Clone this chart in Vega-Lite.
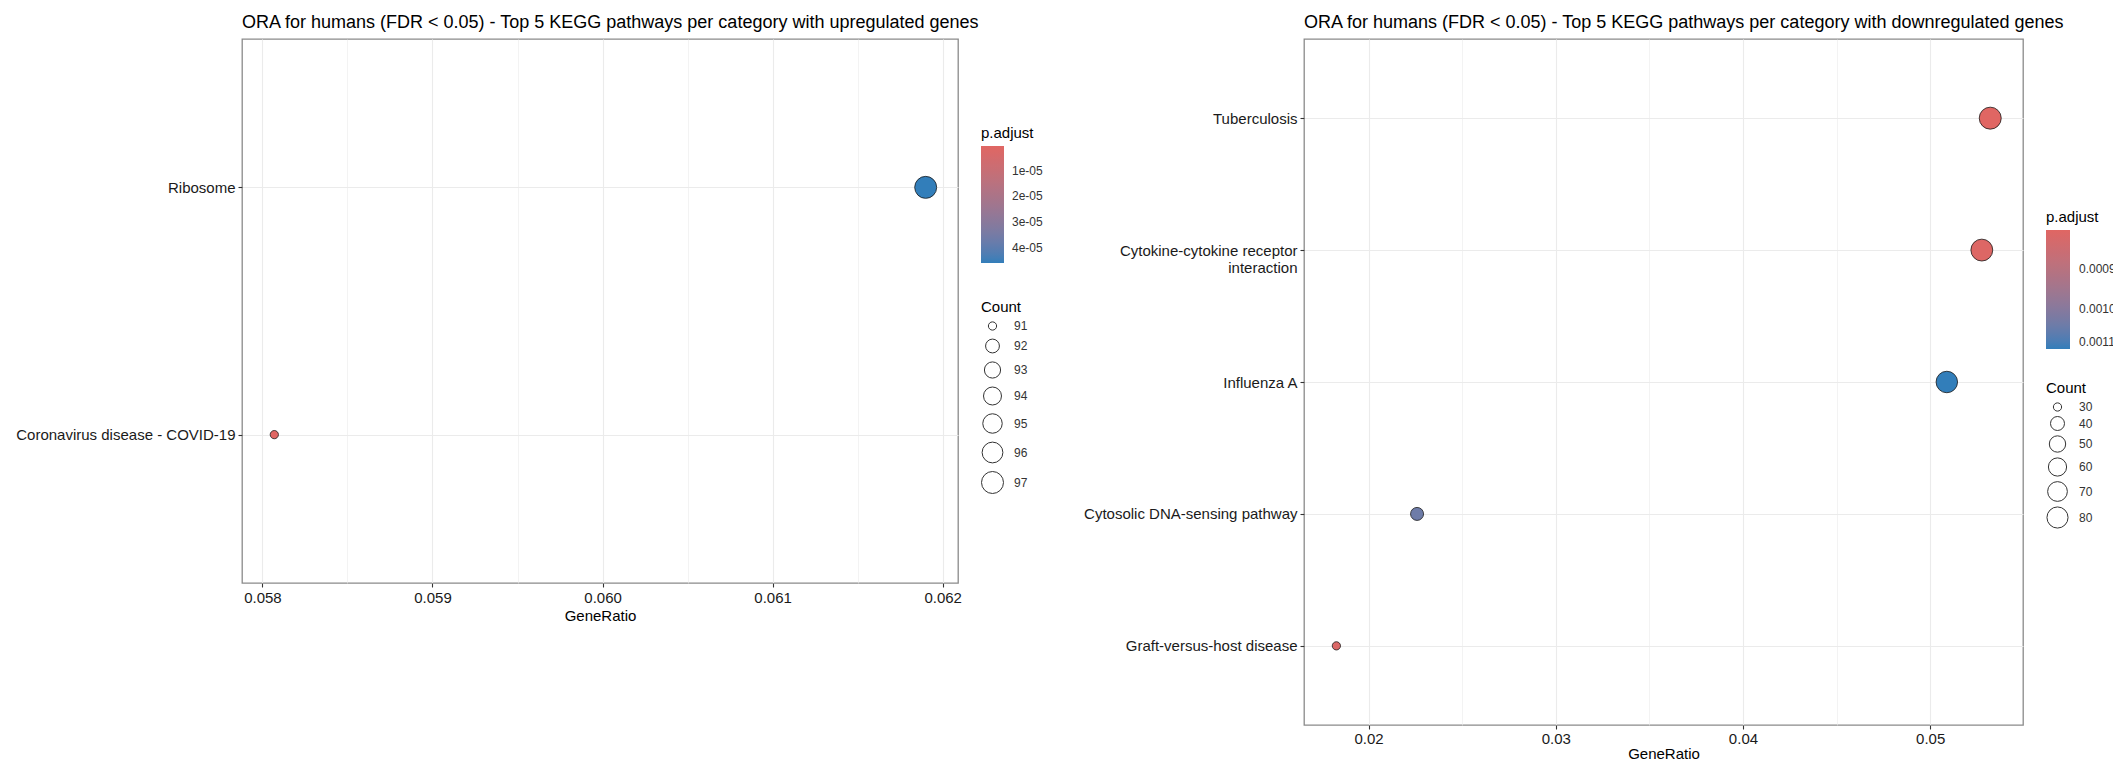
{
  "$schema": "https://vega.github.io/schema/vega-lite/v6.json",
  "background": "white",
  "padding": {"left": 15, "top": 13, "right": 0, "bottom": 0},
  "autosize": {"type": "pad"},
  "config": {
    "font": "Liberation Sans",
    "view": {"stroke": "#8a8a8a", "strokeWidth": 1.3},
    "axis": {
      "labelFont": "Liberation Sans",
      "labelFontSize": 15,
      "labelColor": "#1a1a1a",
      "labelPadding": 3,
      "labelOverlap": false,
      "labelFlush": false,
      "tickSize": 4,
      "tickColor": "#333333",
      "tickWidth": 1.1,
      "domain": false,
      "gridColor": "#ebebeb",
      "gridWidth": 1.1,
      "titleFont": "Liberation Sans",
      "titleFontSize": 15,
      "titleFontWeight": "normal",
      "titleColor": "#000000",
      "titlePadding": 3
    },
    "legend": {
      "titleFont": "Liberation Sans",
      "titleFontSize": 15,
      "titleFontWeight": "normal",
      "titleColor": "#000000",
      "titlePadding": 5,
      "labelFont": "Liberation Sans",
      "labelFontSize": 12,
      "labelColor": "#333333",
      "gradientStrokeWidth": 0,
      "padding": 0,
      "symbolFillColor": "transparent",
      "symbolStrokeColor": "#333333",
      "symbolStrokeWidth": 1
    },
    "title": {
      "font": "Liberation Sans",
      "fontSize": 18,
      "fontWeight": "normal",
      "color": "#000000",
      "anchor": "start",
      "frame": "group",
      "offset": 7
    }
  },
  "bounds": "flush",
  "spacing": 346,
  "resolve": {
    "scale": {"color": "independent", "size": "independent", "x": "independent", "y": "independent"},
    "legend": {"color": "independent", "size": "independent"}
  },
  "hconcat": [
    {
      "title": "ORA for humans (FDR < 0.05) - Top 5 KEGG pathways per category with upregulated genes",
      "width": 716,
      "height": 544,
      "data": {
        "values": [
          {"Description": "Ribosome", "GeneRatio": 0.0619, "Count": 97, "p_adjust": 0.000046},
          {"Description": "Coronavirus disease - COVID-19", "GeneRatio": 0.05807, "Count": 91, "p_adjust": 0.0000003}
        ]
      },
      "mark": {"type": "circle", "opacity": 1, "stroke": "#1a1a1a", "strokeWidth": 0.8},
      "encoding": {
        "x": {
          "field": "GeneRatio",
          "type": "quantitative",
          "scale": {"domain": [0.05788, 0.06209], "zero": false, "nice": false},
          "axis": {
            "title": "GeneRatio",
            "values": [0.058, 0.0585, 0.059, 0.0595, 0.06, 0.0605, 0.061, 0.0615, 0.062],
            "labelExpr": "abs(datum.value * 1000 - round(datum.value * 1000)) > 0.25 ? '' : format(datum.value, '.3f')",
            "tickOpacity": {"condition": {"test": "abs(datum.value * 1000 - round(datum.value * 1000)) > 0.25", "value": 0}, "value": 1},
            "gridWidth": {"condition": {"test": "abs(datum.value * 1000 - round(datum.value * 1000)) > 0.25", "value": 0.6}, "value": 1.1}
          }
        },
        "y": {
          "field": "Description",
          "type": "nominal",
          "sort": ["Ribosome", "Coronavirus disease - COVID-19"],
          "scale": {"type": "point", "padding": 0.6},
          "axis": {"title": null, "grid": true, "labelLimit": 400}
        },
        "color": {
          "field": "p_adjust",
          "type": "quantitative",
          "title": "p.adjust",
          "scale": {"domain": [0.000046, 0.0000003], "range": ["#327eba", "#e06663"], "interpolate": "lab"},
          "legend": {
            "orient": "none",
            "legendX": 739,
            "legendY": 87,
            "type": "gradient",
            "gradientLength": 117,
            "gradientThickness": 23,
            "labelOffset": 8,
            "values": [0.00001, 0.00002, 0.00003, 0.00004],
            "labelExpr": "replace(format(datum.value, '.0e'), 'e-', 'e-0')"
          }
        },
        "size": {
          "field": "Count",
          "type": "quantitative",
          "title": "Count",
          "scale": {"type": "linear", "domain": [91, 92, 93, 94, 95, 96, 97], "range": [68, 191, 262, 323, 378, 431, 483]},
          "legend": {
            "orient": "none",
            "legendX": 739,
            "legendY": 261,
            "values": [91, 92, 93, 94, 95, 96, 97],
            "labelOffset": 10,
            "rowPadding": 3.5
          }
        }
      }
    },
    {
      "title": "ORA for humans (FDR < 0.05) - Top 5 KEGG pathways per category with downregulated genes",
      "width": 719,
      "height": 686,
      "data": {
        "values": [
          {"Description": "Tuberculosis", "GeneRatio": 0.05321, "Count": 87, "p_adjust": 0.000803},
          {"Description": "Cytokine-cytokine receptor interaction", "GeneRatio": 0.05276, "Count": 86, "p_adjust": 0.00081},
          {"Description": "Influenza A", "GeneRatio": 0.05089, "Count": 83, "p_adjust": 0.0011},
          {"Description": "Cytosolic DNA-sensing pathway", "GeneRatio": 0.02259, "Count": 37, "p_adjust": 0.00104},
          {"Description": "Graft-versus-host disease", "GeneRatio": 0.01828, "Count": 30, "p_adjust": 0.000815}
        ]
      },
      "mark": {"type": "circle", "opacity": 1, "stroke": "#1a1a1a", "strokeWidth": 0.8},
      "encoding": {
        "x": {
          "field": "GeneRatio",
          "type": "quantitative",
          "scale": {"domain": [0.01655, 0.05496], "zero": false, "nice": false},
          "axis": {
            "title": "GeneRatio",
            "labelPadding": 2,
            "titlePadding": 0,
            "values": [0.02, 0.025, 0.03, 0.035, 0.04, 0.045, 0.05],
            "labelExpr": "abs(datum.value * 100 - round(datum.value * 100)) > 0.25 ? '' : format(datum.value, '.2f')",
            "tickOpacity": {"condition": {"test": "abs(datum.value * 100 - round(datum.value * 100)) > 0.25", "value": 0}, "value": 1},
            "gridWidth": {"condition": {"test": "abs(datum.value * 100 - round(datum.value * 100)) > 0.25", "value": 0.6}, "value": 1.1}
          }
        },
        "y": {
          "field": "Description",
          "type": "nominal",
          "sort": ["Tuberculosis", "Cytokine-cytokine receptor interaction", "Influenza A", "Cytosolic DNA-sensing pathway", "Graft-versus-host disease"],
          "scale": {"type": "point", "padding": 0.6},
          "axis": {
            "title": null,
            "grid": true,
            "labelLimit": 400,
            "labelLineHeight": 17,
            "labelExpr": "datum.value == 'Cytokine-cytokine receptor interaction' ? ['Cytokine-cytokine receptor', 'interaction'] : datum.value"
          }
        },
        "color": {
          "field": "p_adjust",
          "type": "quantitative",
          "title": "p.adjust",
          "scale": {"domain": [0.0011, 0.000803], "range": ["#327eba", "#e06663"], "interpolate": "lab"},
          "legend": {
            "orient": "none",
            "legendX": 742,
            "legendY": 171,
            "type": "gradient",
            "gradientLength": 119,
            "gradientThickness": 24,
            "labelOffset": 9,
            "values": [0.0009, 0.001, 0.0011],
            "format": ".4f"
          }
        },
        "size": {
          "field": "Count",
          "type": "quantitative",
          "title": "Count",
          "scale": {"type": "linear", "domain": [30, 32, 35, 40, 50, 60, 70, 80, 87], "range": [68, 117, 151.5, 195.5, 268, 331, 390, 445, 483]},
          "legend": {
            "orient": "none",
            "legendX": 742,
            "legendY": 342,
            "values": [30, 40, 50, 60, 70, 80],
            "labelOffset": 10,
            "rowPadding": 0,
            "encode": {
              "symbols": {
                "size": {"signal": "PI / 4 * pow(8 + 12 * sqrt((datum.value - 30) / 50), 2)"}
              }
            }
          }
        }
      }
    }
  ]
}
